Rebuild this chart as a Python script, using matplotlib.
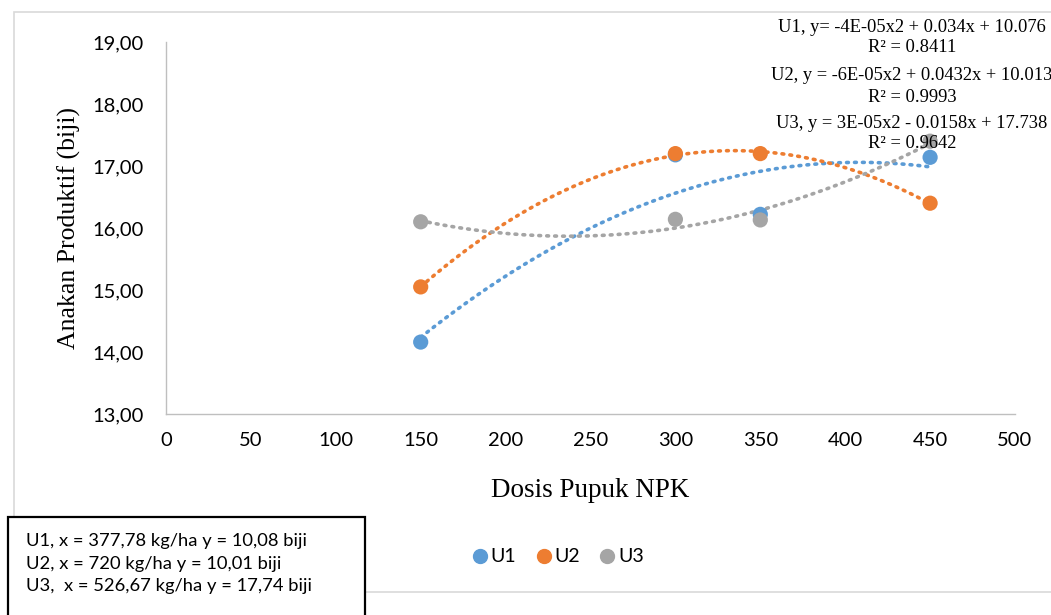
import numpy as np
import matplotlib
matplotlib.use("Agg")
import matplotlib.pyplot as plt
from matplotlib.patches import Rectangle
from matplotlib.lines import Line2D

x_vals = [150, 300, 350, 450]
u1 = [14.16, 17.18, 16.22, 17.14]
u2 = [15.05, 17.20, 17.20, 16.40]
u3 = [16.10, 16.14, 16.13, 17.40]
series_names = ["U1", "U2", "U3"]
colors = ["#5B9BD5", "#ED7D31", "#A5A5A5"]
eq_lines = ["U1, y= -4E-05x2 + 0.034x + 10.076", "R² = 0.8411",
            "U2, y = -6E-05x2 + 0.0432x + 10.013", "R² = 0.9993",
            "U3, y = 3E-05x2 - 0.0158x + 17.738", "R² = 0.9642"]
box_lines = ["U1, x = 377,78 kg/ha y = 10,08 biji",
             "U2, x = 720 kg/ha y = 10,01 biji",
             "U3,  x = 526,67 kg/ha y = 17,74 biji"]
xticks = [0, 50, 100, 150, 200, 250, 300, 350, 400, 450, 500]
yticks = [13, 14, 15, 16, 17, 18, 19]

W, H = 1051, 615
fig = plt.figure(figsize=(W/100, H/100), dpi=100)
fig.patch.set_facecolor("white")

# outer chart frame
fig.patches.append(Rectangle((14/W, 1-592/H), (W-14)/W + 0.01, (592-12)/H,
                             transform=fig.transFigure, fill=False,
                             edgecolor="#D9D9D9", lw=1.2, zorder=0))

ax = fig.add_axes([166/W, 1-414/H, (1015-166)/W, (414-42)/H])
ax.set_xlim(0, 500)
ax.set_ylim(13, 19)
for s in ["top", "right"]:
    ax.spines[s].set_visible(False)
for s in ["left", "bottom"]:
    ax.spines[s].set_color("#BFBFBF")
    ax.spines[s].set_linewidth(1.0)
ax.tick_params(length=0, labelsize=14.5)
ax.tick_params(axis="x", pad=13)
ax.tick_params(axis="y", pad=16)
ax.set_xticks(xticks)
ax.set_yticks(yticks)
ax.set_yticklabels([f"{v:.2f}".replace(".", ",") for v in yticks], family="Lato")
ax.set_xticklabels([str(v) for v in xticks], family="Lato")

xs = np.array(x_vals, dtype=float)
xx = np.linspace(150, 450, 200)
for ys, c in zip([u1, u2, u3], colors):
    coef = np.polyfit(xs, ys, 2)
    ax.plot(xx, np.polyval(coef, xx), linestyle=(0, (0.5, 1.7)), color=c,
            lw=2.6, dash_capstyle="round", zorder=2)
ax.scatter(xs, u1, s=120, color=colors[0], zorder=3, edgecolors="none")
ax.scatter(xs, u3, s=120, color=colors[2], zorder=4, edgecolors="none")
ax.scatter(xs, u2, s=120, color=colors[1], zorder=3.5, edgecolors="none")

ax.set_xlabel("Dosis Pupuk NPK", family="Liberation Serif", fontsize=19.5, labelpad=21)
ax.set_ylabel("Anakan Produktif (biji)", family="Liberation Serif", fontsize=18.5, labelpad=8)

# equations
eq_y = [28, 47, 75, 97, 123, 143]
for t, yy in zip(eq_lines, eq_y):
    fig.text(912/W, 1-yy/H, t, ha="center", va="center", family="Liberation Serif",
             fontsize=13.3, zorder=5)

# legend
handles = [Line2D([], [], marker="o", ls="none", color=c, markersize=10) for c in colors]
fig.legend(handles, series_names, loc="center", bbox_to_anchor=(557/W, 1-557/H),
           ncol=3, frameon=False, prop={"family": "Lato", "size": 14},
           handletextpad=0.05, columnspacing=0.9, handlelength=1.0)

# text box
fig.patches.append(Rectangle((8/W, -0.01), (365-8)/W, (615-517)/H + 0.01,
                             transform=fig.transFigure, facecolor="white",
                             edgecolor="black", lw=1.6, zorder=6))
for i, t in enumerate(box_lines):
    fig.text(26/W, 1-(541+22.5*i)/H, t, ha="left", va="center", family="Lato",
             fontsize=13.2, zorder=7)

fig.savefig("out.png", dpi=100)
